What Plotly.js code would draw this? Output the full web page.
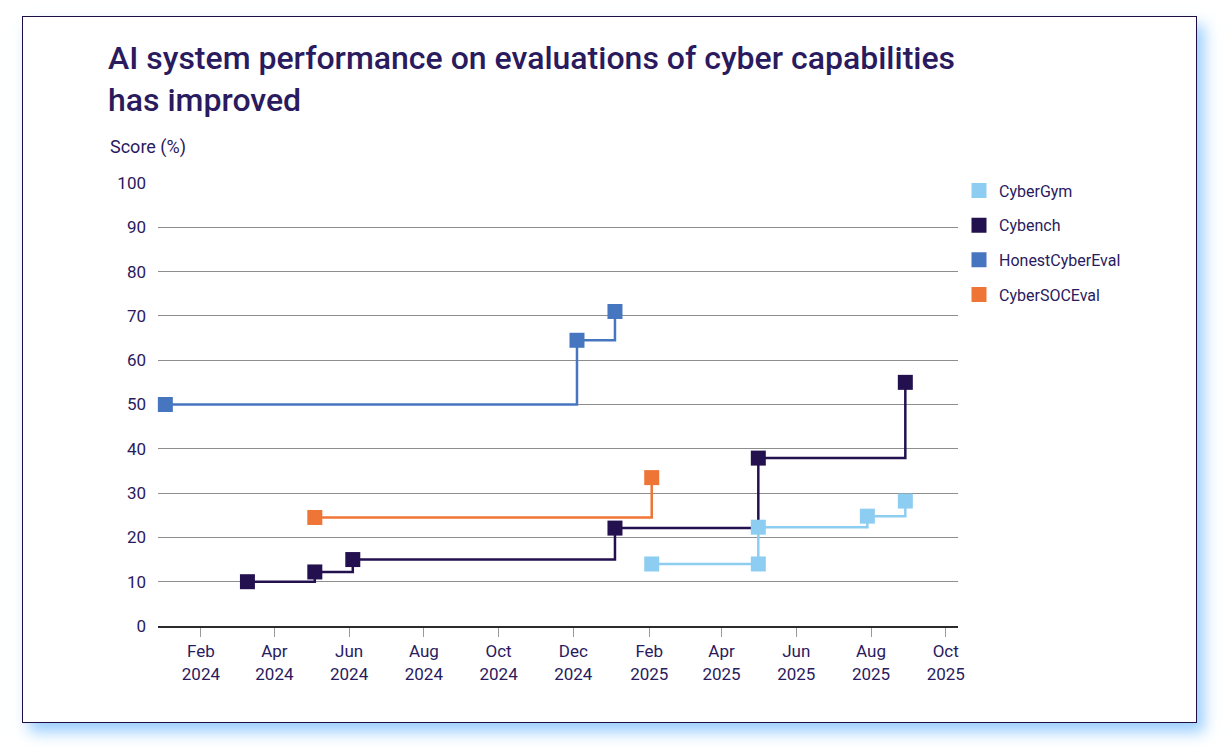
<!DOCTYPE html>
<html>
<head>
<meta charset="utf-8">
<script src="https://cdn.plot.ly/plotly-3.0.1.min.js"></script>
<style>
  html, body { margin: 0; padding: 0; background: #ffffff; }
  #frame {
    position: absolute; left: 22px; top: 16px; width: 1175px; height: 707px;
    box-sizing: border-box; border: 1.5px solid #1d0f45; background: #ffffff;
    box-shadow: 7px 9px 14px rgba(120, 190, 255, 0.75);
  }
  #chart { position: absolute; left: 0; top: 0; width: 1222px; height: 747px; }
</style>
</head>
<body>
<div id="frame"></div>
<div id="chart"></div>
<script>
// Benchmark results: release date of each best-scoring system and its score (%)
const cyberGymDates = ['2025-02-03', '2025-05-01', '2025-05-01', '2025-07-29', '2025-08-29'];
const cyberGymScores = [14.0, 14.0, 22.3, 24.8, 28.2];

const cybenchDates = ['2024-03-10', '2024-05-04', '2024-06-04', '2025-01-04', '2025-05-01', '2025-08-29'];
const cybenchScores = [10.0, 12.2, 15.0, 22.1, 37.9, 55.0];

const honestDates = ['2024-01-03', '2024-12-04', '2025-01-04'];
const honestScores = [50.0, 64.5, 71.0];

const socDates = ['2024-05-04', '2025-02-03'];
const socScores = [24.5, 33.5];

// Axis ticks
const xTickVals = ['2024-02-01', '2024-04-01', '2024-06-01', '2024-08-01', '2024-10-01', '2024-12-01',
                   '2025-02-01', '2025-04-01', '2025-06-01', '2025-08-01', '2025-10-01'];
const xTickText = ['Feb<br>2024', 'Apr<br>2024', 'Jun<br>2024', 'Aug<br>2024', 'Oct<br>2024', 'Dec<br>2024',
                   'Feb<br>2025', 'Apr<br>2025', 'Jun<br>2025', 'Aug<br>2025', 'Oct<br>2025'];
const yTickVals = [0, 10, 20, 30, 40, 50, 60, 70, 80, 90, 100];

const series = [
  { name: 'CyberGym', x: cyberGymDates, y: cyberGymScores, color: '#8dcdf1' },
  { name: 'Cybench', x: cybenchDates, y: cybenchScores, color: '#23114f' },
  { name: 'HonestCyberEval', x: honestDates, y: honestScores, color: '#4676bf' },
  { name: 'CyberSOCEval', x: socDates, y: socScores, color: '#ee7535' }
];

const FONT = 'Roboto, "Liberation Sans", Arial, sans-serif';
const TEXT = '#2a1a5e';

// Step lines first, then square markers on top (markers carry the legend)
const lineTraces = series.map(s => ({
  type: 'scatter', mode: 'lines', x: s.x, y: s.y, name: s.name,
  legendgroup: s.name, showlegend: false, hoverinfo: 'skip',
  line: { shape: 'hv', color: s.color, width: 2.5 }, cliponaxis: false
}));
const markerTraces = series.map(s => ({
  type: 'scatter', mode: 'markers', x: s.x, y: s.y, name: s.name,
  legendgroup: s.name, showlegend: true,
  marker: { symbol: 'square', size: 15, color: s.color, line: { width: 0 } },
  cliponaxis: false
}));

const layout = {
  width: 1222, height: 747,
  margin: { l: 158, r: 264, t: 183, b: 121 },
  paper_bgcolor: 'rgba(0,0,0,0)', plot_bgcolor: 'rgba(0,0,0,0)',
  font: { family: FONT, color: TEXT, size: 17 },
  title: {
    text: 'AI system performance on evaluations of cyber capabilities<br>has improved',
    xref: 'container', yref: 'container', x: 108 / 1222, xanchor: 'left',
    y: 1 - 69 / 747, yanchor: 'top',
    font: { family: FONT, size: 32, color: TEXT, weight: 500 }
  },
  xaxis: {
    type: 'date', range: ['2023-12-28', '2025-10-11'],
    tickvals: xTickVals, ticktext: xTickText,
    ticks: 'outside', ticklen: 9, tickwidth: 1, tickcolor: '#9a9a9a',
    showgrid: false, zeroline: false,
    showline: true, linecolor: '#2b2b2b', linewidth: 2,
    tickfont: { family: FONT, size: 17, color: TEXT }
  },
  yaxis: {
    range: [0, 100], tickvals: yTickVals,
    showgrid: true, gridcolor: '#8e8e8e', gridwidth: 1,
    zeroline: false, showline: false, ticks: '',
    ticklabelstandoff: 11,
    tickfont: { family: FONT, size: 17, color: TEXT }
  },
  showlegend: true,
  legend: {
    x: (959 - 158) / 800, xanchor: 'left', y: 1.021, yanchor: 'top',
    traceorder: 'grouped', tracegroupgap: 10.8,
    font: { family: FONT, size: 16, color: TEXT },
    bgcolor: 'rgba(0,0,0,0)', borderwidth: 0
  },
  annotations: [{
    text: 'Score (%)', xref: 'paper', yref: 'paper',
    x: (108 - 158) / 800, xanchor: 'left', y: 1 + (183 - 147) / 443, yanchor: 'middle',
    showarrow: false, font: { family: FONT, size: 18, color: TEXT }
  }]
};

Plotly.newPlot('chart', lineTraces.concat(markerTraces), layout, { displayModeBar: false, staticPlot: true });
</script>
</body>
</html>
